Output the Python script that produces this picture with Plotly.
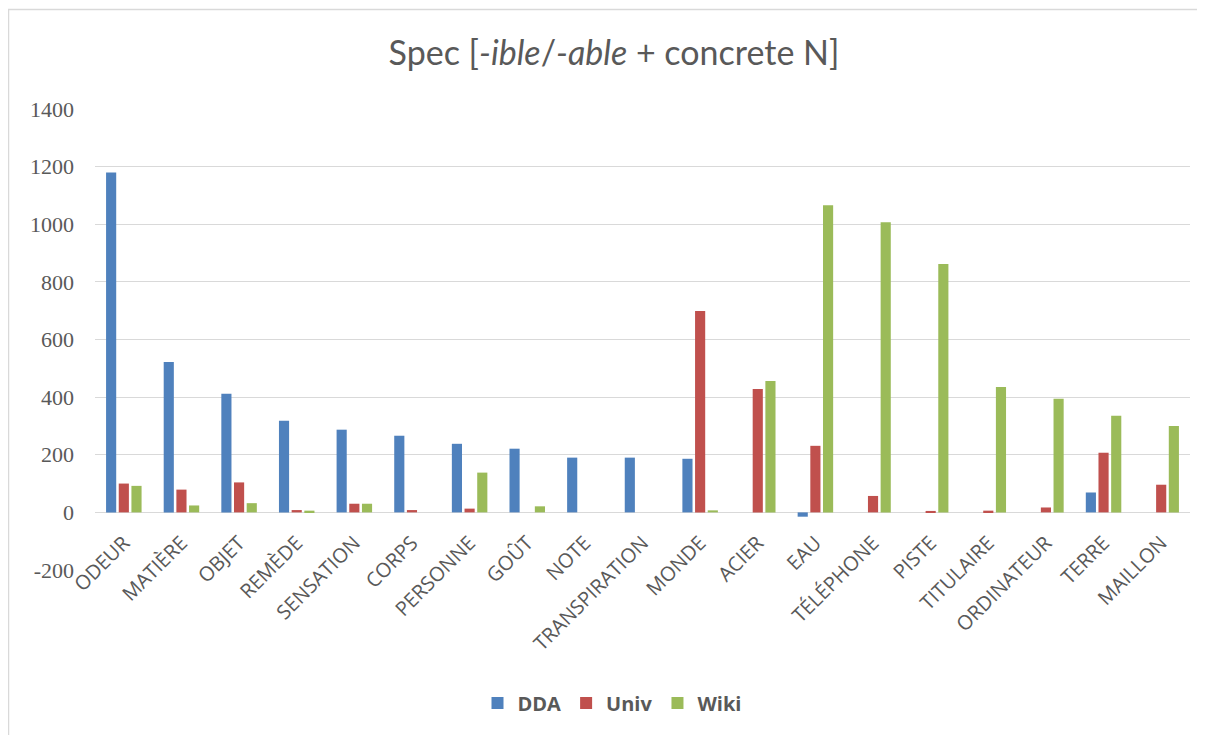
import plotly.graph_objects as go

categories = ["ODEUR", "MATIÈRE", "OBJET", "REMÈDE", "SENSATION", "CORPS", "PERSONNE",
              "GOÛT", "NOTE", "TRANSPIRATION", "MONDE", "ACIER", "EAU", "TÉLÉPHONE",
              "PISTE", "TITULAIRE", "ORDINATEUR", "TERRE", "MAILLON"]
dda = [1180, 522, 412, 318, 287, 266, 238, 221, 190, 190, 186, 0, -15, 0, 0, 0, 0, 69, 0]
univ = [100, 79, 104, 8, 30, 8, 13, 0, 0, 0, 699, 428, 231, 57, 5, 6, 17, 207, 96]
wiki = [92, 24, 32, 6, 30, 0, 138, 21, 0, 0, 7, 456, 1066, 1007, 862, 435, 394, 335, 300]
y_ticks = [-200, 0, 200, 400, 600, 800, 1000, 1200, 1400]
y_tick_text = ["-200", "0", "200", "400", "600", "800", "1000", "1200", "1400"]

OFF = 8  # page body margin
W, H = 1205 - OFF, 735 - OFF
L, R, T, B = 95 - OFF, 1190 - OFF, 109 - OFF, 570 - OFF

fig = go.Figure()
for name, vals, col in [("DDA", dda, "#4f81bd"), ("Univ", univ, "#c0504d"), ("Wiki", wiki, "#9bbb59")]:
    fig.add_trace(go.Bar(name=name, x=categories, y=vals, marker=dict(color=col, line=dict(width=0))))

def px_x(p):
    return (p - OFF - L) / (R - L)

def px_y(p):
    return (B - (p - OFF)) / (B - T)

zero_pos = (0 - (-200)) / 1600

fig.update_layout(
    width=W, height=H,
    margin=dict(l=L, r=W - R, t=T, b=H - B),
    paper_bgcolor="white", plot_bgcolor="white",
    barmode="group", bargap=0.34, bargroupgap=0.2,
    title=dict(text="Spec [<i>-ible</i>/<i>-able</i> + concrete N]",
               x=(614 - OFF) / W, xanchor="center", y=1 - (53 - OFF) / H, yanchor="middle",
               font=dict(family="Lato, Open Sans, sans-serif", size=34, color="#595959")),
    xaxis=dict(anchor="free", position=zero_pos, tickangle=-45, showgrid=False,
               showline=False, ticks="", zeroline=False, ticklabelstandoff=14,
               tickfont=dict(family="Open Sans, sans-serif", size=20, color="#595959")),
    yaxis=dict(range=[-200, 1400], tickvals=y_ticks, ticktext=y_tick_text, showgrid=True,
               gridcolor="#d9d9d9", gridwidth=1.3, zeroline=True, zerolinecolor="#d9d9d9",
               zerolinewidth=1.3, showline=False, ticks="", ticklabelstandoff=20,
               tickfont=dict(family="Liberation Serif, Times New Roman, serif", size=22, color="#595959")),
    legend=dict(orientation="h", x=(612 - OFF - L) / (R - L), xanchor="center", y=px_y(703), yanchor="middle",
                font=dict(family="Open Sans, sans-serif", size=20, color="#595959", weight="bold"),
                itemwidth=30, traceorder="normal"),
    showlegend=True,
    shapes=[dict(type="rect", xref="paper", yref="paper", x0=px_x(8.5), x1=px_x(1230),
                 y0=px_y(760), y1=px_y(9.5), line=dict(color="#d9d9d9", width=1.5),
                 fillcolor="rgba(0,0,0,0)", layer="below")],
)

fig.write_html("out.html")
